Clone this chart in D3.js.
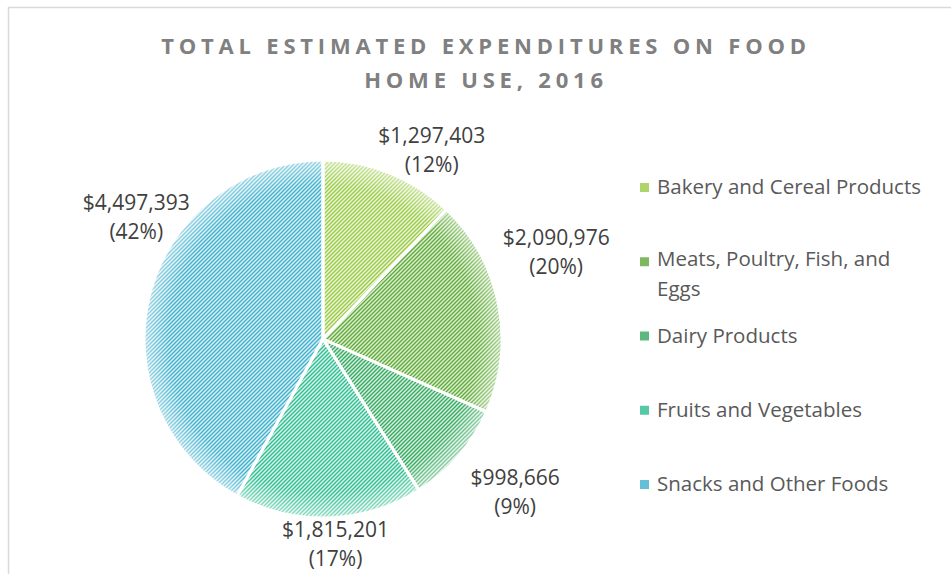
<!DOCTYPE html>
<html lang="en">
<head>
<meta charset="utf-8">
<title>Food home use 2016</title>
<script src="https://d3js.org/d3.v7.min.js"></script>
<style>
  body { margin: 0; background: #fff; }
  text { font-family: "Open Sans", sans-serif; }
</style>
</head>
<body>
<div id="chart"></div>
<script>
// data
var categories = ["Bakery and Cereal Products", "Meats, Poultry, Fish, and Eggs", "Dairy Products", "Fruits and Vegetables", "Snacks and Other Foods"];
var values = [1297403, 2090976, 998666, 1815201, 4497393];
var percents = ["12%", "20%", "9%", "17%", "42%"];
var legendLines = [["Bakery and Cereal Products"], ["Meats, Poultry, Fish, and", "Eggs"], ["Dairy Products"], ["Fruits and Vegetables"], ["Snacks and Other Foods"]];

// colours: stripe and background of the pattern
var stripe = ["#98ca42", "#5ea83a", "#35a862", "#2bbc8f", "#3cb0cc"];
var backing = ["#ebf5da", "#dcefcf", "#d6eedd", "#d8f4ea", "#d8eff6"];

var W = 951, H = 574;
var cx = 323, cy = 339, radius = 179;

var svg = d3.select("#chart").append("svg")
    .attr("width", W).attr("height", H);

// outer frame (cropped on the right and bottom)
svg.append("path")
    .attr("d", "M8.5," + H + "V7.5H" + W)
    .attr("fill", "none")
    .attr("stroke", "#d9d9d9")
    .attr("stroke-width", 1.5);

var defs = svg.append("defs");
categories.forEach(function (c, i) {
  var p = defs.append("pattern")
      .attr("id", "pat" + i)
      .attr("patternUnits", "userSpaceOnUse")
      .attr("width", 4).attr("height", 4);
  p.append("rect").attr("width", 4).attr("height", 4).attr("fill", backing[i]);
  p.append("path")
      .attr("d", "M-1,1 l2,-2 M0,4 l4,-4 M3,5 l2,-2")
      .attr("stroke", stripe[i])
      .attr("stroke-width", 1.3);
});
var glow = defs.append("radialGradient").attr("id", "glow")
    .attr("gradientUnits", "userSpaceOnUse")
    .attr("cx", cx).attr("cy", cy).attr("r", radius);
glow.append("stop").attr("offset", "0.86").attr("stop-color", "#fff").attr("stop-opacity", 0);
glow.append("stop").attr("offset", "1").attr("stop-color", "#fff").attr("stop-opacity", 0.5);

// title
var title = svg.append("text")
    .attr("text-anchor", "middle")
    .attr("fill", "#808080")
    .style("font-size", "22px").style("font-weight", "bold")
    .style("letter-spacing", "4.8px");
title.append("tspan").attr("x", 486).attr("y", 54).text("TOTAL ESTIMATED EXPENDITURES ON FOOD");
title.append("tspan").attr("x", 486).attr("y", 88).text("HOME USE, 2016");

// pie
var pie = d3.pie().sort(null).value(function (d) { return d; });
var arcs = pie(values);
var arc = d3.arc().innerRadius(0).outerRadius(radius);

var g = svg.append("g").attr("transform", "translate(" + cx + "," + cy + ")");
g.selectAll("path.slice")
  .data(arcs)
  .enter().append("path")
    .attr("class", "slice")
    .attr("d", arc)
    .attr("fill", function (d, i) { return "url(#pat" + i + ")"; });
// lighter rim
svg.append("circle")
    .attr("cx", cx).attr("cy", cy).attr("r", radius)
    .attr("fill", "url(#glow)");
g.selectAll("path.edge")
  .data(arcs)
  .enter().append("path")
    .attr("class", "edge")
    .attr("d", arc)
    .attr("fill", "none")
    .attr("stroke", "#fff")
    .attr("stroke-width", 3)
    .attr("stroke-linejoin", "round");

// data labels (best-fit nudges like the original)
var labelNudge = [[34, -2], [36, -48], [40, 22], [6, 4], [8, -72]];
var fmt = d3.format("$,");
var labelArc = d3.arc().innerRadius(radius + 22).outerRadius(radius + 22);
arcs.forEach(function (d, i) {
  var c = labelArc.centroid(d);
  var t = g.append("text")
      .attr("text-anchor", "middle")
      .attr("fill", "#404040")
      .style("font-size", "21px");
  t.append("tspan").attr("x", c[0] + labelNudge[i][0]).attr("y", c[1] + labelNudge[i][1] - 7).text(fmt(values[i]));
  t.append("tspan").attr("x", c[0] + labelNudge[i][0]).attr("y", c[1] + labelNudge[i][1] + 22).text("(" + percents[i] + ")");
});

// legend
var legendY = d3.scalePoint().domain(d3.range(categories.length)).range([187, 484]);
var legend = svg.append("g");
categories.forEach(function (c, i) {
  var y = legendY(i);
  legend.append("rect")
      .attr("x", 640).attr("y", y - 4)
      .attr("width", 9).attr("height", 9)
      .attr("fill", stripe[i]).attr("opacity", 0.8);
  var t = legend.append("text")
      .attr("fill", "#595959")
      .style("font-size", "20.5px");
  legendLines[i].forEach(function (line, j) {
    t.append("tspan").attr("x", 657).attr("y", y + 7 + j * 30 + (i === 1 ? -2 : 0)).text(line);
  });
});
</script>
</body>
</html>
